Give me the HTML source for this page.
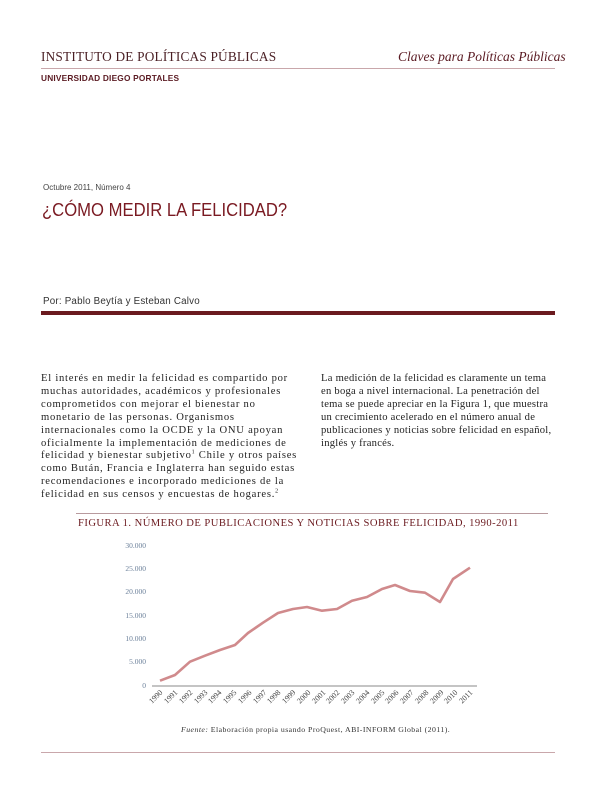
<!DOCTYPE html>
<html><head><meta charset="utf-8"><style>
body{margin:0;width:612px;height:792px;background:#fff;position:relative;overflow:hidden;font-family:"Liberation Serif",serif;}
.a{position:absolute;white-space:nowrap;}
.body{font-size:10.6px;line-height:12.9px;color:#222;letter-spacing:0.1px;}
sup{font-size:6px;line-height:0;}
</style></head><body>
<div class="a" style="left:41px;top:49px;font-size:13.3px;color:#4a1f24;letter-spacing:0.2px">INSTITUTO DE POLÍTICAS PÚBLICAS</div>
<div class="a" style="left:398px;top:49px;font-size:13.5px;color:#5a1a22;font-style:italic">Claves para Políticas Públicas</div>
<div class="a" style="left:41px;top:68px;width:514px;height:1px;background:#c9a7ab"></div>
<div class="a" style="left:41px;top:73px;font-family:'Liberation Sans',sans-serif;font-size:8.3px;color:#5a1a22;font-weight:bold;letter-spacing:0.2px">UNIVERSIDAD DIEGO PORTALES</div>

<div class="a" style="left:43px;top:183px;font-family:'Liberation Sans',sans-serif;font-size:8px;color:#444">Octubre 2011, Número 4</div>
<div class="a" style="left:42px;top:199px;font-family:'Liberation Sans',sans-serif;font-size:18.5px;color:#7a1a22;transform:scaleX(0.9);transform-origin:0 0">¿CÓMO MEDIR LA FELICIDAD?</div>
<div class="a" style="left:43px;top:296px;font-family:'Liberation Sans',sans-serif;font-size:9.8px;color:#333;letter-spacing:0.2px">Por: Pablo Beytía y Esteban Calvo</div>
<div class="a" style="left:41px;top:311px;width:514px;height:4px;background:#6b1a1f"></div>

<div class="a body" style="left:41px;top:373px;letter-spacing:0.75px">El interés en medir la felicidad es compartido por<br>muchas autoridades, académicos y profesionales<br>comprometidos con mejorar el bienestar no<br>monetario de las personas. Organismos<br>internacionales como la OCDE y la ONU apoyan<br>oficialmente la implementación de mediciones de<br>felicidad y bienestar subjetivo<sup>1</sup> Chile y otros países<br>como Bután, Francia e Inglaterra han seguido estas<br>recomendaciones e incorporado mediciones de la<br>felicidad en sus censos y encuestas de hogares.<sup>2</sup></div>
<div class="a body" style="left:321px;top:373px;letter-spacing:0.25px">La medición de la felicidad es claramente un tema<br>en boga a nivel internacional. La penetración del<br>tema se puede apreciar en la Figura 1, que muestra<br>un crecimiento acelerado en el número anual de<br>publicaciones y noticias sobre felicidad en español,<br>inglés y francés.</div>

<div class="a" style="left:76px;top:513px;width:472px;height:1px;background:#b89a9e"></div>
<div class="a" style="left:78px;top:518px;font-size:10.6px;color:#6b1a1f;letter-spacing:0.45px">FIGURA 1. NÚMERO DE PUBLICACIONES Y NOTICIAS SOBRE FELICIDAD, 1990-2011</div>

<svg class="a" style="left:0;top:0" width="612" height="792">
<g font-family="Liberation Serif" font-size="7.5" fill="#6a7f99" text-anchor="end">
<text x="146" y="548">30.000</text><text x="146" y="571">25.000</text><text x="146" y="594">20.000</text><text x="146" y="618">15.000</text><text x="146" y="641">10.000</text><text x="146" y="664">5.000</text><text x="146" y="688">0</text>
</g>
<line x1="152" y1="686" x2="477" y2="686" stroke="#888" stroke-width="1"/>
<polyline fill="none" stroke="#d08a8c" stroke-width="2.6" stroke-linejoin="round" points="160,680.7 175,675 190,661.7 205,655.7 220,650 235,645 248,633 263,622.7 278,613 293,609 307,607 322,610.7 337,609 352,600.7 367,597 382,589 395,585 410,591 425,592.7 440,602 453,579 470,567.7"/>
<g font-family="Liberation Serif" font-size="7.8" fill="#444" text-anchor="end">
<text transform="translate(163,693) rotate(-45)">1990</text><text transform="translate(178,693) rotate(-45)">1991</text><text transform="translate(193,693) rotate(-45)">1992</text><text transform="translate(208,693) rotate(-45)">1993</text><text transform="translate(222,693) rotate(-45)">1994</text><text transform="translate(237,693) rotate(-45)">1995</text><text transform="translate(252,693) rotate(-45)">1996</text><text transform="translate(267,693) rotate(-45)">1997</text><text transform="translate(281,693) rotate(-45)">1998</text><text transform="translate(296,693) rotate(-45)">1999</text><text transform="translate(311,693) rotate(-45)">2000</text><text transform="translate(326,693) rotate(-45)">2001</text><text transform="translate(340,693) rotate(-45)">2002</text><text transform="translate(355,693) rotate(-45)">2003</text><text transform="translate(370,693) rotate(-45)">2004</text><text transform="translate(385,693) rotate(-45)">2005</text><text transform="translate(399,693) rotate(-45)">2006</text><text transform="translate(414,693) rotate(-45)">2007</text><text transform="translate(429,693) rotate(-45)">2008</text><text transform="translate(444,693) rotate(-45)">2009</text><text transform="translate(458,693) rotate(-45)">2010</text><text transform="translate(473,693) rotate(-45)">2011</text>
</g>
</svg>
<div class="a" style="left:181px;top:725px;font-size:7.8px;color:#333;letter-spacing:0.45px"><i>Fuente:</i> Elaboración propia usando ProQuest, ABI-INFORM Global (2011).</div>
<div class="a" style="left:41px;top:752px;width:514px;height:1px;background:#c9a7ab"></div>
</body></html>
